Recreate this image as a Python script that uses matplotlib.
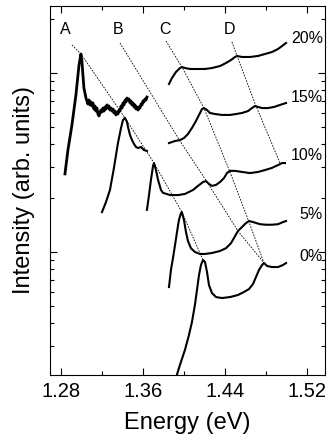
import matplotlib
matplotlib.use('Agg')
import matplotlib.pyplot as plt
from matplotlib.ticker import MultipleLocator, LogLocator, NullFormatter

plt.rcParams['font.family'] = ['Liberation Sans', 'DejaVu Sans']

# 20% low-energy segment (peak A, noisy)
e20a = [1.2839, 1.2868, 1.2907, 1.2946, 1.2976, 1.2995, 1.3005, 1.3024, 1.3044, 1.3063,
        1.3073, 1.3083, 1.3093, 1.3102, 1.3112, 1.3122, 1.3132, 1.3141, 1.3151, 1.3161,
        1.3171, 1.3181, 1.3190, 1.3200, 1.3210, 1.3220, 1.3229, 1.3239, 1.3249, 1.3259,
        1.3268, 1.3278, 1.3288, 1.3298, 1.3308, 1.3317, 1.3327, 1.3337, 1.3347, 1.3356,
        1.3366, 1.3376, 1.3386, 1.3396, 1.3405, 1.3415, 1.3425, 1.3435, 1.3444, 1.3454,
        1.3464, 1.3474, 1.3483, 1.3493, 1.3503, 1.3513, 1.3522, 1.3532, 1.3542, 1.3552,
        1.3561, 1.3571, 1.3581, 1.3591, 1.3600, 1.3610, 1.3620, 1.3630, 1.3639]
i20a = [2.73, 3.71, 5.12, 7.54, 11.08, 12.77, 11.52, 8.25, 7.25, 6.71,
        7.07, 6.63, 6.89, 6.54, 6.80, 6.29, 6.54, 6.13, 6.37, 5.90,
        5.75, 5.98, 6.21, 6.05, 6.37, 6.13, 6.46, 6.29, 6.63, 6.37,
        6.54, 6.21, 6.37, 6.13, 6.29, 5.98, 6.13, 5.83, 6.05, 5.90,
        6.21, 6.13, 6.54, 6.37, 6.80, 6.63, 7.07, 6.89, 7.25, 7.07,
        7.16, 6.80, 6.98, 6.63, 6.80, 6.46, 6.63, 6.29, 6.46, 6.21,
        6.46, 6.37, 6.71, 6.63, 6.98, 6.89, 7.16, 7.07, 7.34]

# 20% high-energy segment
e20b = [1.3854, 1.3883, 1.3922, 1.3961, 1.3980, 1.4010, 1.4059, 1.4127, 1.4205, 1.4273,
        1.4352, 1.4410, 1.4459, 1.4498, 1.4518, 1.4567, 1.4645, 1.4723, 1.4791, 1.4859,
        1.4918, 1.4957, 1.4996]
i20b = [8.68, 9.38, 10.13, 10.66, 10.80, 10.66, 10.53, 10.53, 10.53, 10.66,
        10.94, 11.37, 11.82, 12.29, 12.45, 12.29, 12.29, 12.45, 12.77, 13.10,
        13.62, 14.15, 14.71]

# 15% low-energy segment (peak B)
e15a = [1.3200, 1.3239, 1.3278, 1.3317, 1.3356, 1.3386, 1.3405, 1.3425, 1.3444, 1.3454,
        1.3474, 1.3493, 1.3513, 1.3532, 1.3552, 1.3581, 1.3610, 1.3639]
i15a = [1.67, 1.90, 2.22, 2.95, 4.06, 4.93, 5.46, 5.61, 5.33, 4.99,
        4.50, 4.22, 4.01, 3.86, 3.81, 3.86, 3.71, 3.67]

# 15% high-energy segment
e15b = [1.3854, 1.3913, 1.3961, 1.4000, 1.4039, 1.4078, 1.4117, 1.4147, 1.4176, 1.4195,
        1.4225, 1.4254, 1.4303, 1.4371, 1.4449, 1.4508, 1.4567, 1.4625, 1.4664, 1.4693,
        1.4723, 1.4762, 1.4820, 1.4879, 1.4937, 1.4996]
i15b = [4.06, 4.17, 4.22, 4.33, 4.56, 4.93, 5.39, 5.83, 6.29, 6.37,
        6.21, 5.98, 5.90, 5.83, 5.83, 5.90, 5.98, 6.13, 6.37, 6.54,
        6.46, 6.37, 6.37, 6.46, 6.63, 6.80]

# 10%
e10 = [1.3639, 1.3659, 1.3678, 1.3698, 1.3708, 1.3727, 1.3747, 1.3776, 1.3796, 1.3864,
       1.3942, 1.4010, 1.4088, 1.4137, 1.4186, 1.4215, 1.4244, 1.4273, 1.4313, 1.4352,
       1.4391, 1.4420, 1.4449, 1.4498, 1.4567, 1.4645, 1.4723, 1.4791, 1.4859, 1.4918,
       1.4957, 1.4986]
i10 = [1.72, 2.08, 2.53, 3.02, 3.14, 2.87, 2.53, 2.22, 2.14, 2.08,
       2.08, 2.11, 2.22, 2.34, 2.46, 2.49, 2.40, 2.34, 2.37, 2.46,
       2.59, 2.76, 2.84, 2.84, 2.80, 2.76, 2.80, 2.87, 2.95, 3.06,
       3.14, 3.14]

# 5%
e05 = [1.3854, 1.3873, 1.3893, 1.3913, 1.3932, 1.3951, 1.3971, 1.3980, 1.4000, 1.4020,
       1.4039, 1.4068, 1.4107, 1.4156, 1.4205, 1.4273, 1.4352, 1.4410, 1.4459, 1.4488,
       1.4527, 1.4567, 1.4605, 1.4635, 1.4674, 1.4742, 1.4801, 1.4859, 1.4918, 1.4967,
       1.4996]
i05 = [0.637, 0.793, 0.926, 1.094, 1.29, 1.51, 1.65, 1.67, 1.51, 1.29,
       1.152, 1.05, 1.00, 0.975, 0.975, 0.987, 1.013, 1.05, 1.12, 1.197,
       1.31, 1.38, 1.45, 1.49, 1.47, 1.43, 1.42, 1.42, 1.43, 1.47,
       1.49]

# 0%
e00 = [1.3922, 1.3961, 1.4010, 1.4049, 1.4078, 1.4107, 1.4127, 1.4147, 1.4166, 1.4186,
       1.4205, 1.4225, 1.4244, 1.4273, 1.4313, 1.4371, 1.4449, 1.4527, 1.4586, 1.4635,
       1.4674, 1.4703, 1.4732, 1.4762, 1.4781, 1.4811, 1.4859, 1.4918, 1.4967, 1.4996]
i00 = [0.198, 0.234, 0.284, 0.344, 0.406, 0.506, 0.613, 0.744, 0.846, 0.902,
       0.879, 0.773, 0.654, 0.590, 0.560, 0.553, 0.560, 0.575, 0.598, 0.621,
       0.663, 0.725, 0.793, 0.846, 0.868, 0.835, 0.824, 0.824, 0.846, 0.868]

# guide lines through the peaks
guide_names = ['A', 'B', 'C', 'D']
guide_e = [[1.2907, 1.2995, 1.3425, 1.3708, 1.3980, 1.4186],
           [1.3376, 1.3961, 1.4225, 1.4527, 1.4781],
           [1.3825, 1.3980, 1.4195, 1.4449, 1.4635, 1.4781],
           [1.4468, 1.4518, 1.4703, 1.4937]]
guide_i = [[14.33, 12.77, 5.61, 3.14, 1.67, 0.902],
           [14.71, 4.17, 2.46, 1.31, 0.868],
           [15.09, 10.80, 6.37, 2.80, 1.47, 0.868],
           [14.90, 12.45, 6.54, 3.14]]
name_e = [1.2845, 1.3356, 1.3815, 1.4449]
name_i = 17.6

pct_labels = ['20%', '15%', '10%', '5%', '0%']
pct_i = [15.49, 7.25, 3.48, 1.61, 0.938]

fig = plt.figure(figsize=(3.3, 4.47), dpi=100)
ax = fig.add_axes([0.1515, 0.1611, 0.8333, 0.8255])

ax.plot(e20a, i20a, color='black', lw=2.0)
for e, i in [(e20b, i20b), (e15a, i15a), (e15b, i15b),
             (e10, i10), (e05, i05), (e00, i00)]:
    ax.plot(e, i, color='black', lw=1.5)

for ge, gi in zip(guide_e, guide_i):
    ax.plot(ge, gi, color='black', lw=0.6, dashes=(2, 1.5))

for n, x in zip(guide_names, name_e):
    ax.text(x, name_i, n, ha='center', va='center', fontsize=11.5)

for lab, y in zip(pct_labels, pct_i):
    ax.text(1.5356, y, lab, ha='right', va='center', fontsize=11.5)

ax.set_yscale('log')
ax.set_xlim(1.2693, 1.5376)
ax.set_ylim(0.2055, 23.68)
ax.xaxis.set_minor_locator(MultipleLocator(0.04))
ax.set_xticks([1.28, 1.36, 1.44, 1.52])
ax.set_xticklabels(['1.28', '1.36', '1.44', '1.52'])
ax.yaxis.set_major_locator(LogLocator(base=10))
ax.yaxis.set_minor_locator(LogLocator(base=10, subs=range(2, 10)))
ax.yaxis.set_major_formatter(NullFormatter())
ax.yaxis.set_minor_formatter(NullFormatter())
ax.tick_params(which='both', direction='in', top=True, right=True, width=0.8)
ax.tick_params(which='major', length=5, labelsize=14.5, pad=5)
ax.tick_params(which='minor', length=3)
for s in ax.spines.values():
    s.set_linewidth(0.8)

ax.set_xlabel('Energy (eV)', fontsize=17, labelpad=8)
ax.set_ylabel('Intensity (arb. units)', fontsize=17, labelpad=6)

fig.savefig('out.png', dpi=100)
